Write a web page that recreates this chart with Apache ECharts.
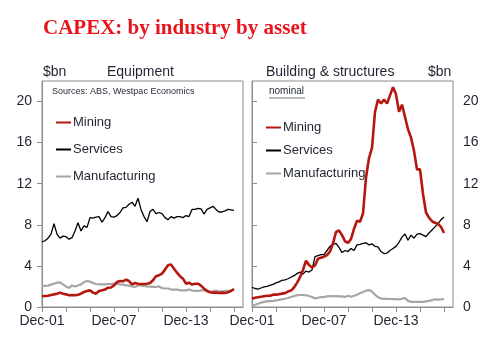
<!DOCTYPE html>
<html>
<head>
<meta charset="utf-8">
<script src="https://cdn.jsdelivr.net/npm/echarts@6/dist/echarts.min.js"></script>
<style>
  html, body { margin: 0; padding: 0; background: #fff; }
  #chart { width: 500px; height: 352px; }
</style>
</head>
<body>
<div id="chart"></div>
<script>
// quarterly, Dec-01 .. Dec-17 ($bn)
const xLabels = ["Dec-01", "Dec-07", "Dec-13"]; // every 24 quarters
const yTicks = [0, 4, 8, 12, 16, 20];

const equipMining = [1.04,1.07,1.1,1.17,1.23,1.3,1.4,1.3,1.23,1.14,
  1.17,1.14,1.2,1.3,1.46,1.56,1.62,1.4,1.3,1.56,
  1.62,1.7,1.88,1.9,2.1,2.43,2.53,2.5,2.66,2.53,
  2.2,2.34,2.27,2.24,2.24,2.27,2.34,2.6,3.0,3.1,
  3.25,3.64,4.06,4.15,3.73,3.34,3.0,2.76,2.27,2.37,
  2.18,2.27,2.27,2.08,1.79,1.56,1.43,1.4,1.4,1.36,
  1.4,1.36,1.43,1.56,1.75];
const equipServices = [6.35,6.45,6.7,7.1,8.1,7.1,6.7,6.9,6.85,6.6,
  6.75,7.4,8.2,7.4,7.9,7.75,8.7,8.65,8.75,8.8,
  8.25,8.7,9.3,8.8,8.75,8.9,9.2,9.65,9.7,10.0,
  10.2,9.8,10.6,9.5,8.8,8.3,9.3,9.5,9.1,9.2,
  9.1,8.7,8.5,8.8,8.65,8.8,8.8,8.7,8.9,8.8,
  9.5,9.5,9.6,9.55,9.05,9.5,9.65,9.8,9.5,9.25,
  9.25,9.35,9.5,9.45,9.4];
const equipManufacturing = [2.05,2.05,2.08,2.18,2.27,2.37,2.4,2.2,2.0,1.85,
  2.1,2.0,2.1,2.2,2.43,2.53,2.47,2.34,2.24,2.2,
  2.2,2.2,2.24,2.24,2.27,2.27,2.2,2.18,2.1,2.08,
  2.0,1.95,2.1,2.1,2.05,2.0,1.98,1.95,1.95,2.0,
  1.85,1.8,1.8,1.7,1.7,1.7,1.62,1.62,1.62,1.7,
  1.62,1.56,1.56,1.62,1.62,1.62,1.46,1.56,1.6,1.53,
  1.53,1.56,1.56,1.62,1.7];

const buildMining = [0.8,0.9,0.95,1.0,1.05,1.1,1.1,1.2,1.2,1.25,
  1.3,1.35,1.5,1.6,1.9,2.35,2.9,3.6,4.5,4.1,
  3.85,4.05,4.7,4.8,4.9,5.05,5.4,6.2,7.3,7.45,
  7.0,6.4,6.25,6.6,7.6,8.4,8.3,9.1,12.6,14.5,
  15.5,19.0,20.2,19.8,20.2,19.8,20.6,21.4,20.7,19.0,
  19.7,18.5,17.3,16.5,15.2,13.4,13.4,11.0,9.2,8.7,
  8.35,8.2,8.1,7.8,7.2];
const buildServices = [1.9,1.8,1.75,1.85,1.95,2.0,2.1,2.2,2.35,2.45,
  2.6,2.65,2.75,2.9,3.05,3.25,3.4,3.2,3.5,3.4,
  3.6,4.9,5.0,5.1,5.1,5.5,5.9,6.1,6.2,5.8,
  5.3,5.5,5.4,5.7,5.5,6.05,6.1,6.2,6.25,6.05,
  6.15,5.9,5.85,5.4,5.2,5.25,5.5,5.7,5.9,6.3,
  6.8,7.1,6.5,7.0,6.7,7.1,7.15,7.0,6.85,7.2,
  7.5,7.8,8.1,8.5,8.75];
const buildManufacturing = [0.15,0.22,0.32,0.42,0.5,0.55,0.58,0.58,0.65,0.7,
  0.75,0.8,0.88,0.97,1.07,1.14,1.17,1.17,1.14,1.07,
  0.97,0.84,0.9,0.97,0.97,1.04,1.07,1.04,1.07,1.04,
  1.04,0.97,1.1,1.0,1.1,1.2,1.35,1.45,1.6,1.65,
  1.5,1.2,0.95,0.82,0.8,0.8,0.78,0.77,0.76,0.75,
  0.8,0.88,0.6,0.5,0.49,0.5,0.5,0.5,0.55,0.6,
  0.67,0.75,0.72,0.74,0.78];

const RED = "#b5170f", GREY = "#a6a6a6", BLACK = "#000000";
const AXIS = "#8c8c8c", TXT = "#1e2430";
const FONT = "Liberation Sans";

const pairs = arr => arr.map((v, i) => [i, v]);

function xAxis(gridIndex) {
  return {
    type: "value", gridIndex, min: 0, max: 67,
    axisLine: { lineStyle: { color: AXIS } },
    axisTick: { length: 5, lineStyle: { color: AXIS }, customValues: [0, 8, 16, 24, 32, 40, 48, 56, 64] },
    axisLabel: {
      customValues: [0, 24, 48], margin: 7,
      color: TXT, fontFamily: FONT, fontSize: 14,
      formatter: v => xLabels[v / 24] || "",
    },
    splitLine: { show: false },
  };
}

function yAxis(gridIndex, position) {
  return {
    type: "value", gridIndex, position, min: 0, max: 22,
    axisLine: { show: true, lineStyle: { color: AXIS } },
    axisTick: { show: true, length: 5, lineStyle: { color: AXIS }, customValues: yTicks },
    axisLabel: { customValues: yTicks, margin: 10, color: TXT, fontFamily: FONT, fontSize: 14 },
    splitLine: { show: false },
  };
}

function line(name, data, color, width, idx) {
  return {
    name, type: "line", xAxisIndex: idx, yAxisIndex: idx,
    data: pairs(data), symbol: "none", smooth: false,
    lineStyle: { color, width }, itemStyle: { color },
    z: name === "Mining" ? 3 : 2,
  };
}

function legend(left, top, gap) {
  return {
    orient: "vertical", left, top, itemGap: gap,
    itemWidth: 15, itemHeight: 10,
    data: ["Mining", "Services", "Manufacturing"],
    itemStyle: { opacity: 0 },
    textStyle: { color: TXT, fontFamily: FONT, fontSize: 13, padding: [0, 0, 0, -3] },
    selectedMode: false,
  };
}

const chart = echarts.init(document.getElementById("chart"));
chart.setOption({
  animation: false,
  title: {
    text: "CAPEX: by industry by asset", left: 38, top: 13,
    textStyle: { color: "#e8141c", fontFamily: "Liberation Serif", fontSize: 21, fontWeight: "bold" },
  },
  grid: [
    { left: 42, top: 81, width: 201, height: 226, show: true, borderColor: AXIS, borderWidth: 1 },
    { left: 252, top: 81, width: 201, height: 226, show: true, borderColor: AXIS, borderWidth: 1 },
  ],
  xAxis: [xAxis(0), xAxis(1)],
  yAxis: [yAxis(0, "left"), yAxis(1, "right")],
  legend: [legend(50, 111, 14), legend(260, 116, 10)],
  series: [
    line("Manufacturing", equipManufacturing, GREY, 2.2, 0),
    line("Services", equipServices, BLACK, 1.3, 0),
    line("Mining", equipMining, RED, 2.6, 0),
    line("Manufacturing", buildManufacturing, GREY, 2.2, 1),
    line("Services", buildServices, BLACK, 1.3, 1),
    line("Mining", buildMining, RED, 2.6, 1),
  ],
  graphic: [
    { type: "text", left: 43, top: 65, style: { text: "$bn", fill: TXT, font: "14px " + FONT } },
    { type: "text", left: 107, top: 65, style: { text: "Equipment", fill: TXT, font: "14px " + FONT } },
    { type: "text", left: 266, top: 65, style: { text: "Building & structures", fill: TXT, font: "14px " + FONT } },
    { type: "text", left: 428, top: 65, style: { text: "$bn", fill: TXT, font: "14px " + FONT } },
    { type: "text", left: 52, top: 87, style: { text: "Sources: ABS, Westpac Economics", fill: TXT, font: "9px " + FONT } },
    { type: "text", left: 269, top: 86, style: { text: "nominal", fill: TXT, font: "10px " + FONT } },
    { type: "line", shape: { x1: 269, y1: 98, x2: 305, y2: 98 }, style: { stroke: GREY, lineWidth: 1.5 } },
  ],
});
</script>
</body>
</html>
